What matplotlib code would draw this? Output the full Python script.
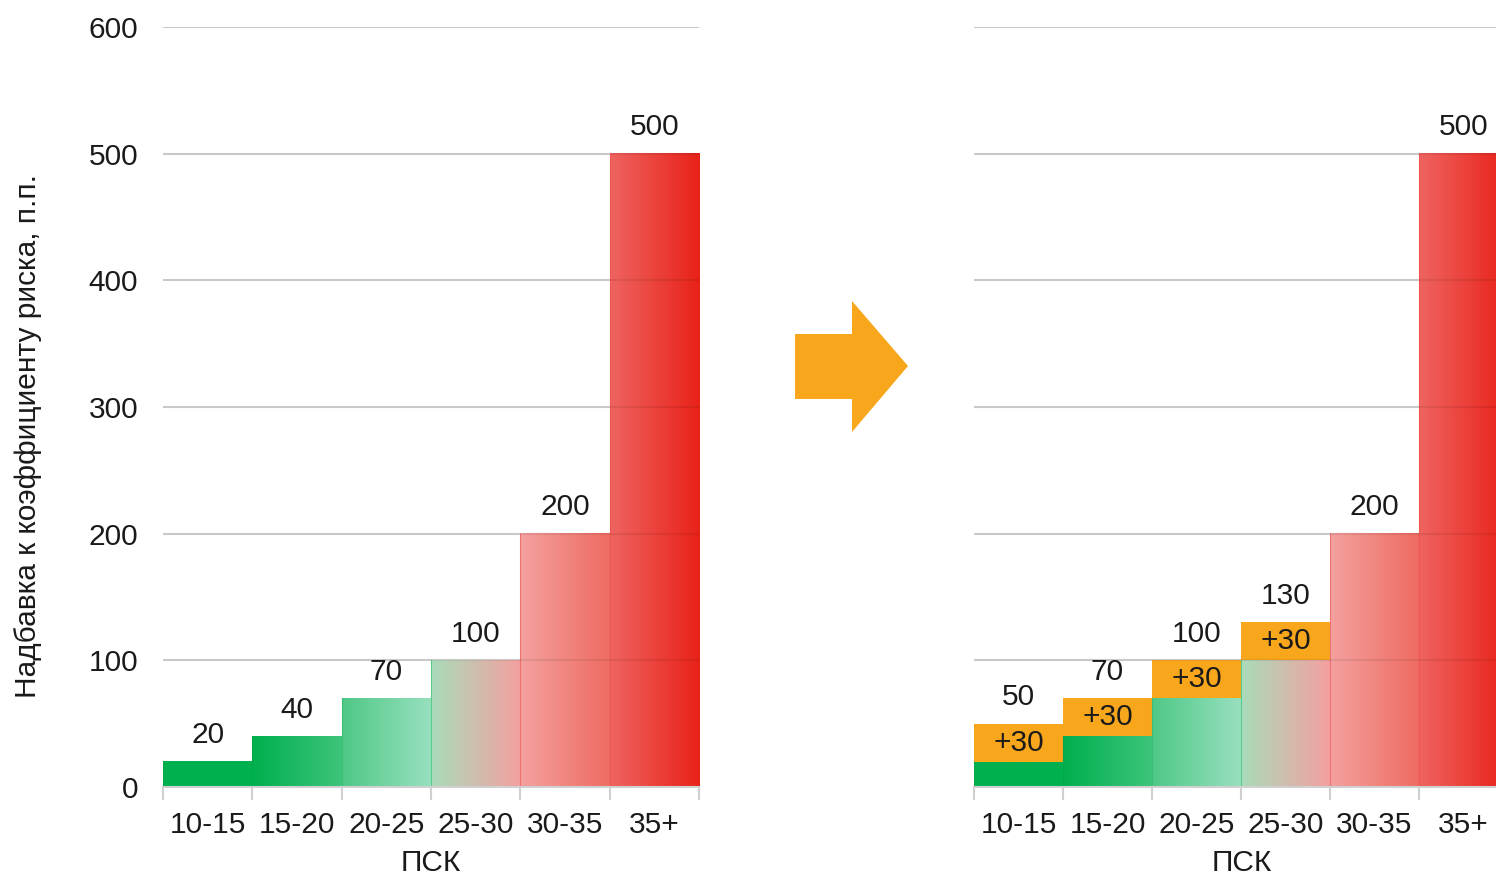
import numpy as np
import matplotlib
matplotlib.use("Agg")
import matplotlib.pyplot as plt
from matplotlib.colors import to_rgb
from matplotlib.patches import Polygon

plt.rcParams['font.family'] = ['Liberation Sans', 'DejaVu Sans']

categories = ['10-15', '15-20', '20-25', '25-30', '30-35', '35+']
base_values = [20, 40, 70, 100, 200, 500]
added_values = [30, 30, 30, 30, 0, 0]
added_label = '+30'
y_ticks = [0, 100, 200, 300, 400, 500, 600]
y_label = 'Надбавка к коэффициенту риска, п.п.'
x_label = 'ПСК'

grad_start = ['#00b04e', '#00b04e', '#4fc886', '#a9dcba', '#f4a19f', '#ef6460']
grad_end = ['#00b04e', '#3dc47b', '#98e0bf', '#f4a0a0', '#ee6c62', '#e82219']
edge_cols = ['#00a848', '#00a848', '#3cbf74', '#5ccb8a', '#f07070', '#ee5550']
orange = '#f8a61c'
text_col = '#1a1a1a'
grid_col = '#d9d9d9'
fs = 21.5

W, H = 1496, 875
fig = plt.figure(figsize=(W / 100, H / 100), dpi=100)

ax_b = 1 - 787 / H
ax_h = (787 - 27) / H
axL = fig.add_axes([163 / W, ax_b, 536 / W, ax_h])
axR = fig.add_axes([974 / W, ax_b, 534 / W, ax_h])


def draw_panel(ax, with_add, show_y):
    n = len(categories)
    for i, v in enumerate(base_values):
        c0 = np.array(to_rgb(grad_start[i]))
        c1 = np.array(to_rgb(grad_end[i]))
        t = np.linspace(0, 1, 200)[:, None]
        img = (c0 * (1 - t) + c1 * t)[None, :, :]
        ax.imshow(img, extent=(i - 0.5, i + 0.5, 0, v), aspect='auto',
                  origin='lower', zorder=1, interpolation='bilinear')
        ax.plot([i - 0.5, i - 0.5], [0, v], color=edge_cols[i], lw=0.8, zorder=2)
        total = v
        if with_add and added_values[i] > 0:
            a = added_values[i]
            ax.bar(i, a, bottom=v, width=1.0, color=orange, zorder=2, linewidth=0)
            ax.text(i, v + a / 2, added_label, ha='center', va='center',
                    fontsize=fs, color=text_col, zorder=5)
            total = v + a
        ax.annotate(str(total), (i, total), xytext=(0, 19), textcoords='offset points',
                    ha='center', va='center', fontsize=fs, color=text_col, zorder=5)
    for y in y_ticks[1:]:
        ax.axhline(y, color=grid_col, lw=1.5, zorder=0)
        ax.axhline(y, color=(0, 0, 0, 0.07), lw=1.5, zorder=3)
    ax.set_xlim(-0.5, n - 0.5)
    ax.set_ylim(0, 600)
    for s in ['top', 'right', 'left']:
        ax.spines[s].set_visible(False)
    ax.spines['bottom'].set_color('#d0d0d0')
    ax.spines['bottom'].set_linewidth(1.5)
    ax.spines['bottom'].set_zorder(4)
    ax.set_xticks(np.arange(-0.5, n, 1.0))
    ax.set_xticklabels([])
    ax.set_xticks(np.arange(n), minor=True)
    ax.set_xticklabels(categories, minor=True, fontsize=fs, color=text_col)
    ax.tick_params(axis='x', which='major', length=9, width=1.5, color='#d0d0d0')
    ax.tick_params(axis='x', which='minor', length=0, pad=17)
    ax.set_yticks(y_ticks)
    if show_y:
        ax.set_yticklabels([str(t) for t in y_ticks], fontsize=fs, color=text_col)
        ax.tick_params(axis='y', length=0, pad=18)
        ax.set_ylabel(y_label, fontsize=fs, color=text_col, va='center')
        ax.yaxis.set_label_coords(-0.252, 0.462, transform=ax.transAxes)
    else:
        ax.set_yticklabels([])
        ax.tick_params(axis='y', length=0)
    ax.set_xlabel(x_label, fontsize=fs, color=text_col)
    ax.xaxis.set_label_coords(0.5, -0.1)
    ax.xaxis.label.set_va('center')
    ax.set_facecolor('none')


draw_panel(axL, False, True)
draw_panel(axR, True, False)
axR.xaxis.set_label_coords(0.5 * 536 / 534, -0.1)

arrow_px = [(795, 334), (852, 334), (852, 301), (908, 366), (852, 432),
            (852, 399), (795, 399)]
arrow = Polygon([(x / W, 1 - y / H) for x, y in arrow_px], closed=True,
                transform=fig.transFigure, color=orange, lw=0)
fig.patches.append(arrow)

fig.savefig('out.png', dpi=100)
